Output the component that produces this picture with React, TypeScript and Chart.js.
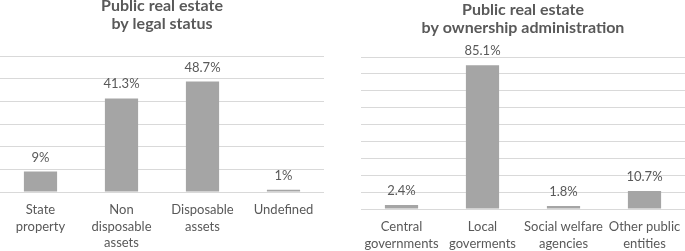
import React, { useEffect, useRef } from "react";
import { Chart, registerables } from "chart.js";

Chart.register(...registerables);

const legalCategories: string[][] = [
  ["State", "property"],
  ["Non", "disposable", "assets"],
  ["Disposable", "assets"],
  ["Undefined"],
];
const legalValues: number[] = [9, 41.3, 48.7, 1];
const legalLabels: string[] = ["9%", "41.3%", "48.7%", "1%"];
const legalTitle: string[] = ["Public real estate", "by legal status"];

const adminCategories: string[][] = [
  ["Central", "governments"],
  ["Local", "goverments"],
  ["Social welfare", "agencies"],
  ["Other public", "entities"],
];
const adminValues: number[] = [2.4, 85.1, 1.8, 10.7];
const adminLabels: string[] = ["2.4%", "85.1%", "1.8%", "10.7%"];
const adminTitle: string[] = ["Public real estate", "by ownership administration"];

const FONT = "Lato";
const TEXT = "#595959";
const GRID = "#d9d9d9";
const BAR = "#a5a5a5";

const valueLabelPlugin = {
  id: "valueLabels",
  afterDatasetsDraw(chart: any) {
    const labels: string[] = chart.options.plugins.valueLabels.labels;
    const ctx = chart.ctx;
    const meta = chart.getDatasetMeta(0);
    ctx.save();
    ctx.font = `13px ${FONT}`;
    ctx.fillStyle = TEXT;
    ctx.textAlign = "center";
    ctx.textBaseline = "alphabetic";
    meta.data.forEach((bar: any, i: number) => {
      ctx.fillText(labels[i], bar.x, bar.y - 10);
    });
    ctx.restore();
  },
};

function makeConfig(
  categories: string[][],
  values: number[],
  labels: string[],
  title: string[],
  max: number,
  padding: any,
  titlePadBottom: number,
  xHeight: number
): any {
  return {
    type: "bar",
    data: {
      labels: categories,
      datasets: [
        {
          data: values,
          backgroundColor: BAR,
          borderWidth: 0,
          categoryPercentage: 1,
          barPercentage: 0.41,
        },
      ],
    },
    plugins: [valueLabelPlugin],
    options: {
      animation: false,
      responsive: false,
      maintainAspectRatio: false,
      layout: { padding },
      plugins: {
        legend: { display: false },
        tooltip: { enabled: false },
        title: {
          display: true,
          text: title,
          color: TEXT,
          font: { family: FONT, size: 16, weight: "bold", lineHeight: 1.125 },
          padding: { top: 0, bottom: titlePadBottom },
        },
        valueLabels: { labels },
      },
      scales: {
        x: {
          grid: { display: false, drawTicks: false },
          border: { display: false },
          afterFit(scale: any) {
            scale.height = xHeight;
            scale.paddingLeft = 0;
            scale.paddingRight = 0;
          },
          ticks: {
            color: TEXT,
            font: { family: FONT, size: 13, lineHeight: 1.27 },
            padding: 10,
            autoSkip: false,
            maxRotation: 0,
            minRotation: 0,
          },
        },
        y: {
          min: 0,
          max,
          ticks: { display: false, stepSize: 10 },
          grid: { color: GRID, drawTicks: false, lineWidth: 1 },
          border: { display: false },
        },
      },
    },
  };
}

function BarChart(props: { config: any; width: number; height: number; left: number }) {
  const ref = useRef<HTMLCanvasElement | null>(null);
  useEffect(() => {
    if (!ref.current) return;
    const chart = new Chart(ref.current, props.config);
    return () => chart.destroy();
  }, []);
  return (
    <div style={{ position: "absolute", left: props.left, top: 0, width: props.width, height: props.height }}>
      <canvas ref={ref} width={props.width} height={props.height} style={{ width: props.width, height: props.height }} />
    </div>
  );
}

export default function App() {
  const left = makeConfig(legalCategories, legalValues, legalLabels, legalTitle, 60, { left: 0, right: 16, top: -3, bottom: 0 }, 23, 59);
  const right = makeConfig(adminCategories, adminValues, adminLabels, adminTitle, 90, { left: 21, right: 0, top: 1, bottom: 0 }, 20, 42);
  return (
    <div style={{ position: "absolute", left: 0, top: 0, width: 685, height: 251, background: "#fff", overflow: "hidden" }}>
      <BarChart config={left} width={340} height={251} left={0} />
      <BarChart config={right} width={345} height={251} left={340} />
    </div>
  );
}
